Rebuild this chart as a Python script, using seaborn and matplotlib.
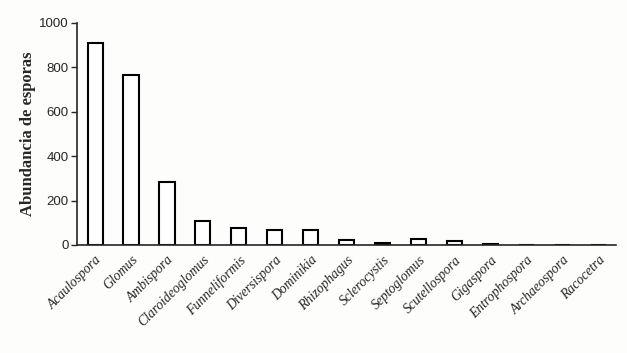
import pandas as pd
import numpy as np
import matplotlib.pyplot as plt
import seaborn as sns

generos = ["Acaulospora", "Glomus", "Ambispora", "Claroideoglomus", "Funneliformis",
           "Diversispora", "Dominikia", "Rhizophagus", "Sclerocystis", "Septoglomus",
           "Scutellospora", "Gigaspora", "Entrophospora", "Archaeospora", "Racocetra"]
abundancia = [910, 765, 282, 108, 78, 69, 66, 24, 8, 25, 16, 5, 2, 1, 1]
yticks = [0, 200, 400, 600, 800, 1000]

df = pd.DataFrame({"genero": generos, "abundancia": abundancia})

sns.set_style("ticks")
plt.rcParams["font.family"] = ["Liberation Serif", "DejaVu Serif"]

fig = plt.figure(figsize=(6.27, 3.53), dpi=100)
fig.patch.set_facecolor("#fdfdfb")
ax = fig.add_axes([0.123, 0.306, 0.86, 0.629])
ax.set_facecolor("#fdfdfb")

sns.barplot(data=df, x="genero", y="abundancia", color="white", edgecolor="black",
            linewidth=1.5, width=0.42, ax=ax)

ax.set_xlim(-0.5, 14.5)
ax.set_ylim(0, 1000)
ax.set_yticks(yticks)
ax.set_yticklabels([str(t) for t in yticks], family="Liberation Sans", fontsize=9.5)
ax.set_xticks(range(len(generos)))
ax.set_xticklabels(generos, rotation=45, ha="right", rotation_mode="anchor",
                   fontstyle="italic", fontsize=9.8)
ax.tick_params(axis="x", length=0, pad=6)
ax.tick_params(axis="y", length=4, width=1, direction="out", pad=2)
ax.set_xlabel("")
ax.set_ylabel("Abundancia de esporas", fontweight="bold", fontsize=12, labelpad=2)
sns.despine(ax=ax)
for s in ["left", "bottom"]:
    ax.spines[s].set_linewidth(1.2)

fig.savefig("out.png", dpi=100, facecolor=fig.get_facecolor())
